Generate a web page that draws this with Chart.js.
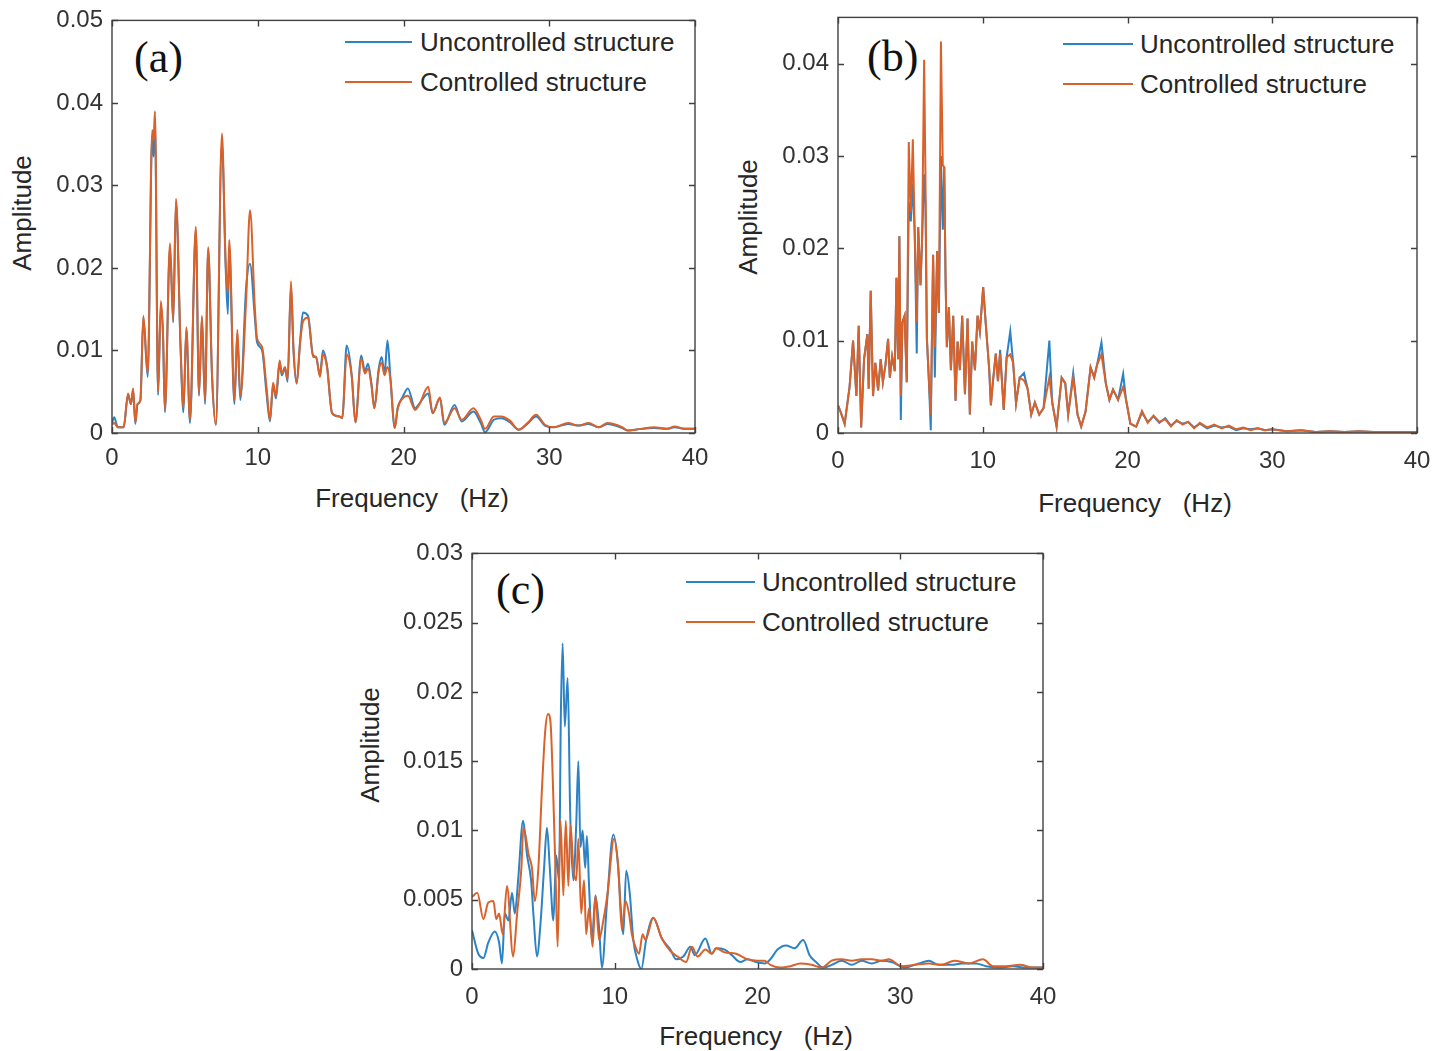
<!DOCTYPE html>
<html>
<head>
<meta charset="utf-8">
<title>Frequency spectra</title>
<script src="https://cdn.jsdelivr.net/npm/chart.js@4.4.1/dist/chart.umd.min.js"></script>
<style>
  body { margin: 0; width: 1447px; height: 1051px; overflow: hidden; position: relative; background: #fff;
         font-family: 'Liberation Sans', Arial, Helvetica, sans-serif; color: #262626; }
  canvas { position: absolute; }
  .txt { position: absolute; white-space: pre; font-size: 26px; line-height: 26px; }
  .c { transform: translate(-50%, -50%); }
  .rot { transform: translate(-50%, -50%) rotate(-90deg); }
  .tag { position: absolute; font-family: 'Liberation Serif', 'Times New Roman', serif; font-size: 44px; line-height: 44px; color: #111; }
  .key { position: absolute; height: 2px; }
</style>
</head>
<body>

<!-- panel letters -->
<div class="tag" style="left:134px; top:36px;">(a)</div>
<div class="tag" style="left:867px; top:35px;">(b)</div>
<div class="tag" style="left:496px; top:568px;">(c)</div>

<!-- axis titles -->
<div class="txt rot" style="left:22px; top:213px;">Amplitude</div>
<div class="txt rot" style="left:748px; top:217px;">Amplitude</div>
<div class="txt rot" style="left:370px; top:745px;">Amplitude</div>
<div class="txt c" style="left:412px; top:498px;">Frequency   (Hz)</div>
<div class="txt c" style="left:1135px; top:503px;">Frequency   (Hz)</div>
<div class="txt c" style="left:756px; top:1036px;">Frequency   (Hz)</div>

<!-- legends -->
<div class="key" style="left:345px; top:41px; width:67px; background:#2b83c6;"></div>
<div class="txt" style="left:420px; top:29px;">Uncontrolled structure</div>
<div class="key" style="left:345px; top:81px; width:67px; background:#d9622b;"></div>
<div class="txt" style="left:420px; top:69px;">Controlled structure</div>

<div class="key" style="left:1063px; top:43px; width:70px; background:#2b83c6;"></div>
<div class="txt" style="left:1140px; top:31px;">Uncontrolled structure</div>
<div class="key" style="left:1063px; top:83px; width:70px; background:#d9622b;"></div>
<div class="txt" style="left:1140px; top:71px;">Controlled structure</div>

<div class="key" style="left:686px; top:581px; width:69px; background:#2b83c6;"></div>
<div class="txt" style="left:762px; top:569px;">Uncontrolled structure</div>
<div class="key" style="left:686px; top:621px; width:69px; background:#d9622b;"></div>
<div class="txt" style="left:762px; top:609px;">Controlled structure</div>

<script>
// ---- tick labels ----
const freqTicks = [0, 10, 20, 30, 40];
const ampTicksA = [0, 0.01, 0.02, 0.03, 0.04, 0.05];
const ampTicksB = [0, 0.01, 0.02, 0.03, 0.04];
const ampTicksC = [0, 0.005, 0.01, 0.015, 0.02, 0.025, 0.03];

// ---- (a) ----
const freqA = [0, 0.15, 0.4, 0.8, 1.1, 1.3, 1.45, 1.6, 1.75, 1.95,
  2.15, 2.45, 2.76, 2.85, 2.95, 3.16, 3.35, 3.5, 3.63, 3.98,
  4.2, 4.39, 4.7, 4.9, 5.1, 5.35, 5.75, 5.97, 6.17, 6.38,
  6.6, 6.86, 7.13, 7.54, 7.8, 7.95, 8.04, 8.4, 8.6, 8.8,
  9.2, 9.47, 9.8, 9.95, 10.3, 10.6, 10.84, 11.05, 11.25, 11.5,
  11.65, 11.87, 12.05, 12.28, 12.45, 12.67, 12.9, 13.1, 13.45, 13.8,
  14.0, 14.27, 14.47, 14.75, 15.1, 15.6, 15.8, 16.1, 16.45, 16.7,
  17.1, 17.35, 17.57, 17.8, 18.0, 18.3, 18.5, 18.7, 18.9, 19.1,
  19.4, 19.6, 19.95, 20.3, 20.8, 21.1, 21.7, 22.0, 22.5, 22.8,
  23.5, 24.0, 24.8, 25.3, 25.6, 26.2, 26.7, 27.3, 27.9, 28.5,
  29.1, 29.7, 30.3, 31.3, 32, 32.7, 33.4, 34, 35, 35.4,
  36.3, 37.2, 38.1, 38.6, 39.3, 40];
const uncA = [0.0012, 0.0019, 0.0007, 0.0007, 0.0046, 0.0035, 0.0052, 0.0011, 0.0035, 0.0040,
  0.0140, 0.0068, 0.0360, 0.0335, 0.0375, 0.0046, 0.0155, 0.0118, 0.0025, 0.0225,
  0.0134, 0.0280, 0.0105, 0.0025, 0.0125, 0.0012, 0.0245, 0.0045, 0.0140, 0.0035,
  0.0222, 0.0070, 0.0010, 0.0350, 0.0200, 0.0144, 0.0225, 0.0035, 0.0120, 0.0040,
  0.0176, 0.0205, 0.0140, 0.0110, 0.0100, 0.0048, 0.0014, 0.0058, 0.0042, 0.0085,
  0.0070, 0.0078, 0.0062, 0.0178, 0.0100, 0.0060, 0.0110, 0.0146, 0.0142, 0.0094,
  0.0092, 0.0070, 0.0100, 0.0082, 0.0024, 0.0020, 0.0018, 0.0106, 0.0070, 0.0013,
  0.0094, 0.0075, 0.0084, 0.0060, 0.0030, 0.0078, 0.0092, 0.0072, 0.0112, 0.0068,
  0.0006, 0.0030, 0.0044, 0.0054, 0.0030, 0.0036, 0.0048, 0.0024, 0.0042, 0.0010,
  0.0034, 0.0014, 0.0026, 0.0012, 0.0001, 0.0016, 0.0018, 0.0013, 0.0004, 0.0011,
  0.0020, 0.0009, 0.0007, 0.0011, 0.0009, 0.0011, 0.0007, 0.0011, 0.0006, 0.0003,
  0.0005, 0.0006, 0.0005, 0.0007, 0.0005, 0.0005];
const ctrlA = [0.0010, 0.0012, 0.0007, 0.0007, 0.0048, 0.0035, 0.0054, 0.0013, 0.0035, 0.0040,
  0.0142, 0.0072, 0.0367, 0.0355, 0.0390, 0.0050, 0.0160, 0.0120, 0.0028, 0.0230,
  0.0136, 0.0284, 0.0108, 0.0030, 0.0128, 0.0016, 0.0250, 0.0048, 0.0142, 0.0040,
  0.0225, 0.0072, 0.0010, 0.0363, 0.0206, 0.0170, 0.0234, 0.0040, 0.0125, 0.0045,
  0.0160, 0.0270, 0.0152, 0.0115, 0.0104, 0.0056, 0.0016, 0.0061, 0.0045, 0.0088,
  0.0072, 0.0080, 0.0065, 0.0184, 0.0104, 0.0060, 0.0108, 0.0135, 0.0140, 0.0092,
  0.0092, 0.0068, 0.0095, 0.0080, 0.0024, 0.0020, 0.0018, 0.0095, 0.0068, 0.0013,
  0.0090, 0.0072, 0.0078, 0.0058, 0.0030, 0.0075, 0.0085, 0.0070, 0.0080, 0.0065,
  0.0006, 0.0030, 0.0042, 0.0045, 0.0028, 0.0035, 0.0056, 0.0024, 0.0043, 0.0012,
  0.0030, 0.0016, 0.0030, 0.0016, 0.0005, 0.0020, 0.0020, 0.0015, 0.0004, 0.0012,
  0.0022, 0.0010, 0.0007, 0.0012, 0.0009, 0.0012, 0.0007, 0.0012, 0.0007, 0.0003,
  0.0005, 0.0007, 0.0005, 0.0008, 0.0005, 0.0005];

// ---- (b) ----
const freqB = [0, 0.2, 0.46, 0.8, 1.04, 1.27, 1.43, 1.6, 1.8, 2.03,
  2.12, 2.26, 2.42, 2.58, 2.77, 2.95, 3.1, 3.28, 3.46, 3.58,
  3.74, 3.92, 4.04, 4.15, 4.24, 4.34, 4.45, 4.6, 4.75, 4.89,
  5.03, 5.17, 5.3, 5.44, 5.54, 5.7, 5.81, 5.95, 6.04, 6.14,
  6.27, 6.41, 6.57, 6.69, 6.85, 6.97, 7.11, 7.24, 7.34, 7.43,
  7.52, 7.66, 7.8, 7.96, 8.12, 8.26, 8.42, 8.58, 8.77, 8.95,
  9.11, 9.27, 9.46, 9.64, 9.8, 10.03, 10.2, 10.45, 10.56, 10.7,
  10.9, 11.05, 11.2, 11.45, 11.65, 11.9, 12.1, 12.3, 12.55, 12.85,
  13.1, 13.35, 13.6, 13.9, 14.2, 14.6, 14.8, 15.1, 15.45, 15.7,
  15.9, 16.25, 16.55, 16.8, 17.1, 17.45, 17.7, 17.9, 18.2, 18.5,
  18.75, 19.0, 19.35, 19.7, 19.9, 20.2, 20.6, 21, 21.4, 21.8,
  22.2, 22.6, 23, 23.4, 23.8, 24.2, 24.6, 25, 25.5, 26,
  26.5, 27, 27.5, 28, 28.5, 29, 29.5, 30, 31, 32,
  33, 34, 35, 36, 37, 38, 39, 40];
const uncB = [0.0030, 0.0022, 0.0010, 0.0050, 0.0100, 0.0040, 0.0116, 0.0006, 0.0080, 0.0107,
  0.0048, 0.0154, 0.0040, 0.0076, 0.0046, 0.0080, 0.0055, 0.0074, 0.0102, 0.0060,
  0.0083, 0.0067, 0.0168, 0.0080, 0.0213, 0.0014, 0.0120, 0.0127, 0.0055, 0.0250,
  0.0229, 0.0270, 0.0216, 0.0086, 0.0223, 0.0160, 0.0210, 0.0280, 0.0250, 0.0103,
  0.0060, 0.0003, 0.0193, 0.0060, 0.0197, 0.0130, 0.0300, 0.0220, 0.0288, 0.0167,
  0.0093, 0.0136, 0.0068, 0.0127, 0.0035, 0.0099, 0.0068, 0.0127, 0.0042, 0.0124,
  0.0020, 0.0099, 0.0068, 0.0127, 0.0110, 0.0158, 0.0120, 0.0068, 0.0030, 0.0055,
  0.0086, 0.0056, 0.0090, 0.0025, 0.0082, 0.0110, 0.0076, 0.0032, 0.0060, 0.0065,
  0.0048, 0.0020, 0.0033, 0.0020, 0.0027, 0.0100, 0.0033, 0.0007, 0.0060, 0.0054,
  0.0020, 0.0065, 0.0020, 0.0007, 0.0023, 0.0071, 0.0060, 0.0074, 0.0098, 0.0054,
  0.0036, 0.0047, 0.0036, 0.0064, 0.0036, 0.0010, 0.0007, 0.0022, 0.0012, 0.0018,
  0.0011, 0.0016, 0.0008, 0.0013, 0.0010, 0.0012, 0.0006, 0.0010, 0.0005, 0.0008,
  0.0006, 0.0007, 0.0003, 0.0005, 0.0004, 0.0005, 0.0003, 0.0004, 0.0002, 0.0003,
  0.0001, 0.0002, 0.0001, 0.0002, 0.0001, 0.0001, 0.0001, 0.0001];
const ctrlB = [0.0030, 0.0022, 0.0010, 0.0050, 0.0100, 0.0040, 0.0116, 0.0006, 0.0080, 0.0107,
  0.0048, 0.0154, 0.0040, 0.0076, 0.0046, 0.0080, 0.0055, 0.0074, 0.0102, 0.0060,
  0.0083, 0.0067, 0.0168, 0.0080, 0.0213, 0.0040, 0.0120, 0.0127, 0.0055, 0.0315,
  0.0240, 0.0318, 0.0216, 0.0120, 0.0223, 0.0160, 0.0210, 0.0404, 0.0280, 0.0103,
  0.0060, 0.0020, 0.0193, 0.0093, 0.0197, 0.0130, 0.0424, 0.0290, 0.0288, 0.0167,
  0.0093, 0.0136, 0.0068, 0.0127, 0.0035, 0.0099, 0.0068, 0.0127, 0.0042, 0.0124,
  0.0020, 0.0099, 0.0068, 0.0127, 0.0110, 0.0158, 0.0120, 0.0068, 0.0030, 0.0055,
  0.0086, 0.0056, 0.0086, 0.0025, 0.0082, 0.0085, 0.0076, 0.0032, 0.0060, 0.0057,
  0.0048, 0.0020, 0.0033, 0.0020, 0.0027, 0.0060, 0.0033, 0.0007, 0.0060, 0.0054,
  0.0020, 0.0060, 0.0020, 0.0007, 0.0023, 0.0071, 0.0060, 0.0074, 0.0085, 0.0054,
  0.0036, 0.0047, 0.0036, 0.0050, 0.0036, 0.0010, 0.0007, 0.0024, 0.0011, 0.0019,
  0.0012, 0.0015, 0.0007, 0.0014, 0.0009, 0.0012, 0.0005, 0.0011, 0.0006, 0.0009,
  0.0005, 0.0008, 0.0004, 0.0006, 0.0003, 0.0005, 0.0003, 0.0004, 0.0002, 0.0003,
  0.0001, 0.0002, 0.0001, 0.0002, 0.0001, 0.0001, 0.0001, 0.0001];

// ---- (c) ----
const freqUncC = [0, 0.44, 0.8, 1.14, 1.6, 1.9, 2.1, 2.3, 2.55, 2.8,
  3.0, 3.23, 3.58, 3.86, 4.14, 4.3, 4.55, 4.8, 5.05, 5.25,
  5.45, 5.7, 5.9, 6.1, 6.22, 6.35, 6.5, 6.7, 6.88, 7.1,
  7.3, 7.45, 7.6, 7.75, 7.93, 8.05, 8.2, 8.4, 8.65, 8.9,
  9.1, 9.45, 9.9, 10.2, 10.45, 10.6, 10.8, 11.05, 11.3, 11.6,
  11.86, 12.2, 12.7, 13.3, 13.9, 14.3, 14.8, 15.3, 15.6, 16.35,
  16.8, 17.1, 17.7, 18.2, 18.8, 19.3, 19.9, 20.5, 20.9, 21.4,
  22.0, 22.6, 23.2, 23.65, 24.1, 24.6, 25.2, 25.9, 26.6, 27.3,
  28.0, 28.7, 29.4, 30.3, 31.3, 32.0, 32.7, 33.6, 34.3, 35.3,
  36.0, 36.9, 37.9, 38.8, 40];
const uncC = [0.0028, 0.0011, 0.0008, 0.0019, 0.0027, 0.0019, 0.0004, 0.0040, 0.0035, 0.0055,
  0.0040, 0.0064, 0.0107, 0.0082, 0.0064, 0.0040, 0.0009, 0.0033, 0.0073, 0.0102,
  0.0073, 0.0035, 0.0082, 0.0064, 0.0180, 0.0235, 0.0175, 0.0210, 0.0112, 0.0064,
  0.0104, 0.0150, 0.0088, 0.0100, 0.0073, 0.0096, 0.0060, 0.0021, 0.0053, 0.0030,
  0.0001, 0.0047, 0.0097, 0.0078, 0.0040, 0.0025, 0.0071, 0.0055, 0.0021, 0.0006,
  0.0000, 0.0021, 0.0037, 0.0022, 0.0014, 0.0007, 0.0009, 0.0016, 0.0010, 0.0022,
  0.0011, 0.0015, 0.0014, 0.0010, 0.0005, 0.0007, 0.0005, 0.0004, 0.0007, 0.0014,
  0.0017, 0.0015, 0.0021, 0.0010, 0.0005, 0.0001, 0.0003, 0.0006, 0.0003, 0.0006,
  0.0004, 0.0006, 0.0005, 0.0001, 0.0004, 0.0006, 0.0003, 0.0003, 0.0004, 0.0004,
  0.0002, 0.0001, 0.0002, 0.0001, 0.0001];
const freqCtrlC = [0, 0.37, 0.8, 1.14, 1.5, 1.7, 1.9, 2.15, 2.45, 2.88,
  3.16, 3.46, 3.6, 3.98, 4.2, 4.4, 4.65, 4.9, 5.13, 5.33,
  5.5, 5.7, 5.85, 6.0, 6.2, 6.4, 6.57, 6.75, 6.9, 7.1,
  7.3, 7.45, 7.65, 7.85, 8.0, 8.2, 8.45, 8.65, 8.9, 9.2,
  9.5, 9.95, 10.25, 10.5, 10.75, 11.0, 11.2, 11.45, 11.7, 11.95,
  12.15, 12.7, 13.3, 13.9, 14.4, 15.0, 15.4, 15.8, 16.35, 16.8,
  17.1, 17.7, 18.5, 19.3, 20.0, 20.5, 20.9, 21.6, 22.3, 23.0,
  23.8, 24.5, 25.2, 25.9, 26.6, 27.3, 28.0, 28.7, 29.2, 30.1,
  31.0, 32.0, 32.9, 33.8, 34.8, 35.8, 36.5, 37.4, 38.4, 39.3,
  40];
const ctrlC = [0.0052, 0.0055, 0.0036, 0.0048, 0.0049, 0.0036, 0.0040, 0.0025, 0.0060, 0.0009,
  0.0040, 0.0073, 0.0102, 0.0082, 0.0073, 0.0049, 0.0073, 0.0130, 0.0172, 0.0184,
  0.0178, 0.0123, 0.0070, 0.0016, 0.0107, 0.0053, 0.0107, 0.0060, 0.0104, 0.0073,
  0.0064, 0.0094, 0.0040, 0.0064, 0.0025, 0.0044, 0.0016, 0.0053, 0.0021, 0.0035,
  0.0055, 0.0094, 0.0073, 0.0028, 0.0049, 0.0040, 0.0025, 0.0016, 0.0011, 0.0025,
  0.0021, 0.0037, 0.0022, 0.0013, 0.0009, 0.0005, 0.0016, 0.0009, 0.0014, 0.0011,
  0.0015, 0.0012, 0.0011, 0.0007, 0.0006, 0.0006, 0.0003, 0.0001, 0.0002, 0.0004,
  0.0003, 0.0001, 0.0006, 0.0007, 0.0006, 0.0007, 0.0007, 0.0006, 0.0007, 0.0002,
  0.0003, 0.0004, 0.0003, 0.0006, 0.0004, 0.0007, 0.0002, 0.0002, 0.0003, 0.0001,
  0.0001];

const BLUE = '#2b83c6';
const ORANGE = '#d9622b';
const FONT = "'Liberation Sans', Arial, Helvetica, sans-serif";

const pts = (xs, ys) => xs.map((x, i) => ({ x: x, y: ys[i] }));
const fmt = v => String(+v.toFixed(4));

// MATLAB-like box with inward ticks on all four sides
const boxPlugin = {
  id: 'matlabBox',
  afterDraw(chart) {
    const { ctx, chartArea: a, scales } = chart;
    const x = scales.x, y = scales.y;
    ctx.save();
    ctx.strokeStyle = '#404040';
    ctx.lineWidth = 1.4;
    ctx.strokeRect(a.left, a.top, a.right - a.left, a.bottom - a.top);
    ctx.beginPath();
    x.ticks.forEach(t => {
      const px = Math.round(x.getPixelForValue(t.value)) + 0.5;
      ctx.moveTo(px, a.bottom); ctx.lineTo(px, a.bottom - 6);
      ctx.moveTo(px, a.top); ctx.lineTo(px, a.top + 6);
    });
    y.ticks.forEach(t => {
      const py = Math.round(y.getPixelForValue(t.value)) + 0.5;
      ctx.moveTo(a.left, py); ctx.lineTo(a.left + 6, py);
      ctx.moveTo(a.right, py); ctx.lineTo(a.right - 6, py);
    });
    ctx.stroke();
    ctx.restore();
  }
};

function makePanel(box, ymax, yTicks, fu, u, fc, c, smooth, xPad) {
  const [L, T, R, B] = box;
  const padT = 20, padR = 30, yW = 110, xH = 45;
  const cv = document.createElement('canvas');
  cv.width = R - L + yW + padR;
  cv.height = B - T + padT + xH;
  cv.style.left = (L - yW) + 'px';
  cv.style.top = (T - padT) + 'px';
  document.body.appendChild(cv);

  const tickFont = { family: FONT, size: 24 };
  new Chart(cv, {
    type: 'line',
    data: {
      datasets: [
        { label: 'Uncontrolled structure', data: pts(fu, u), borderColor: BLUE, order: 1 },
        { label: 'Controlled structure', data: pts(fc, c), borderColor: ORANGE, order: 0 }
      ]
    },
    options: {
      responsive: false,
      animation: false,
      devicePixelRatio: 1,
      layout: { padding: { top: padT, right: padR, left: 0, bottom: 0 } },
      elements: {
        point: { radius: 0 },
        line: { borderWidth: 2, fill: false, tension: 0,
                cubicInterpolationMode: smooth ? 'monotone' : 'default' }
      },
      plugins: { legend: { display: false }, tooltip: { enabled: false } },
      scales: {
        x: {
          type: 'linear', min: 0, max: 40,
          grid: { display: false, drawTicks: false },
          border: { display: false },
          afterFit: s => { s.height = xH; },
          afterBuildTicks: s => { s.ticks = freqTicks.map(v => ({ value: v })); },
          ticks: { padding: xPad, font: tickFont, color: '#333', maxRotation: 0, autoSkip: false, callback: fmt }
        },
        y: {
          type: 'linear', min: 0, max: ymax,
          grid: { display: false, drawTicks: false },
          border: { display: false },
          afterFit: s => { s.width = yW; },
          afterBuildTicks: s => { s.ticks = yTicks.map(v => ({ value: v })); },
          ticks: { padding: 9, font: tickFont, color: '#333', autoSkip: false, callback: fmt }
        }
      }
    },
    plugins: [boxPlugin]
  });
}

makePanel([112, 17, 695, 433], 0.05, ampTicksA, freqA, uncA, freqA, ctrlA, true, 11);
makePanel([838, 14, 1417, 433], 0.045, ampTicksB, freqB, uncB, freqB, ctrlB, false, 14);
makePanel([472, 550, 1043, 969], 0.03, ampTicksC, freqUncC, uncC, freqCtrlC, ctrlC, true, 14);
</script>
</body>
</html>
